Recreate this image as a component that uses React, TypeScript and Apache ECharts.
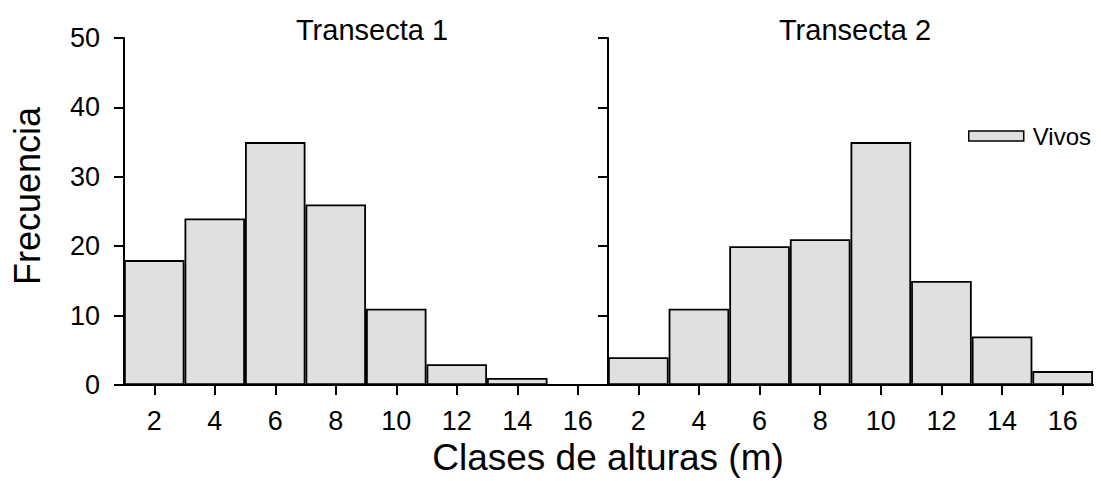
import React, { useEffect, useRef } from "react";
import * as echarts from "echarts";

const categories = ["2", "4", "6", "8", "10", "12", "14", "16"];
const transecta1 = [18, 24, 35, 26, 11, 3, 1, 0];
const transecta2 = [4, 11, 20, 21, 35, 15, 7, 2];
const panelTitles = ["Transecta 1", "Transecta 2"];
const seriesName = "Vivos";
const xTitle = "Clases de alturas (m)";
const yTitle = "Frecuencia";

const FONT = "Liberation Sans, Arial, sans-serif";

export default function App() {
  const ref = useRef<HTMLDivElement>(null);
  useEffect(() => {
    if (!ref.current) return;
    const chart = echarts.init(ref.current, null, { renderer: "svg" });
    const axisLine = { show: true, lineStyle: { color: "#000", width: 2 } };
    const xAxisCommon = {
      type: "category" as const,
      data: categories,
      boundaryGap: true,
      axisLine,
      axisTick: { show: true, alignWithLabel: true, length: 10, lineStyle: { color: "#000", width: 2 } },
      axisLabel: { color: "#000", fontSize: 27, fontFamily: FONT, margin: 22 },
      splitLine: { show: false },
    };
    const yAxisCommon = {
      type: "value" as const,
      min: 0,
      max: 50,
      interval: 10,
      axisLine,
      axisTick: { show: true, length: 10, lineStyle: { color: "#000", width: 2 } },
      splitLine: { show: false },
    };
    const barStyle = { color: "#e0e0e0", borderColor: "#000", borderWidth: 1.8 };
    chart.setOption({
      animation: false,
      backgroundColor: "#fff",
      title: [
        { text: panelTitles[0], left: 367, top: 10, textAlign: "center", textStyle: { fontSize: 29, fontWeight: "normal", color: "#000", fontFamily: FONT } },
        { text: panelTitles[1], left: 850, top: 10, textAlign: "center", textStyle: { fontSize: 29, fontWeight: "normal", color: "#000", fontFamily: FONT } },
      ],
      legend: {
        data: [seriesName],
        left: 963,
        top: 119,
        itemWidth: 55,
        itemHeight: 10,
        itemGap: 10,
        icon: "rect",
        textStyle: { fontSize: 24, color: "#000", fontFamily: FONT, padding: [0, 0, 0, 4] },
        itemStyle: { color: "#e0e0e0", borderColor: "#000", borderWidth: 1.5 },
      },
      grid: [
        { left: 124, top: 38, width: 484, bottom: 96, containLabel: false },
        { left: 608, top: 38, width: 485, bottom: 96, containLabel: false },
      ],
      xAxis: [
        { ...xAxisCommon, gridIndex: 0 },
        { ...xAxisCommon, gridIndex: 1 },
      ],
      yAxis: [
        { ...yAxisCommon, gridIndex: 0, axisLabel: { show: true, color: "#000", fontSize: 27, fontFamily: FONT, margin: 24 } },
        { ...yAxisCommon, gridIndex: 1, axisLabel: { show: false } },
      ],
      series: [
        { name: seriesName, type: "bar", xAxisIndex: 0, yAxisIndex: 0, data: transecta1, barWidth: "100%", barCategoryGap: "0%", itemStyle: barStyle },
        { name: seriesName, type: "bar", xAxisIndex: 1, yAxisIndex: 1, data: transecta2, barWidth: "100%", barCategoryGap: "0%", itemStyle: barStyle },
      ],
      graphic: [
        { type: "text", x: 608, y: 457, style: { text: xTitle, fontSize: 37, fill: "#000", fontFamily: FONT, align: "center", verticalAlign: "middle" } },
        { type: "text", x: 27, y: 196, rotation: Math.PI / 2, style: { text: yTitle, fontSize: 36, fill: "#000", fontFamily: FONT, align: "center", verticalAlign: "middle" } },
      ],
    });
    return () => chart.dispose();
  }, []);
  return (
    <div
      ref={ref}
      style={{ position: "absolute", left: 0, top: 0, width: 1101, height: 481, background: "#fff" }}
    />
  );
}
